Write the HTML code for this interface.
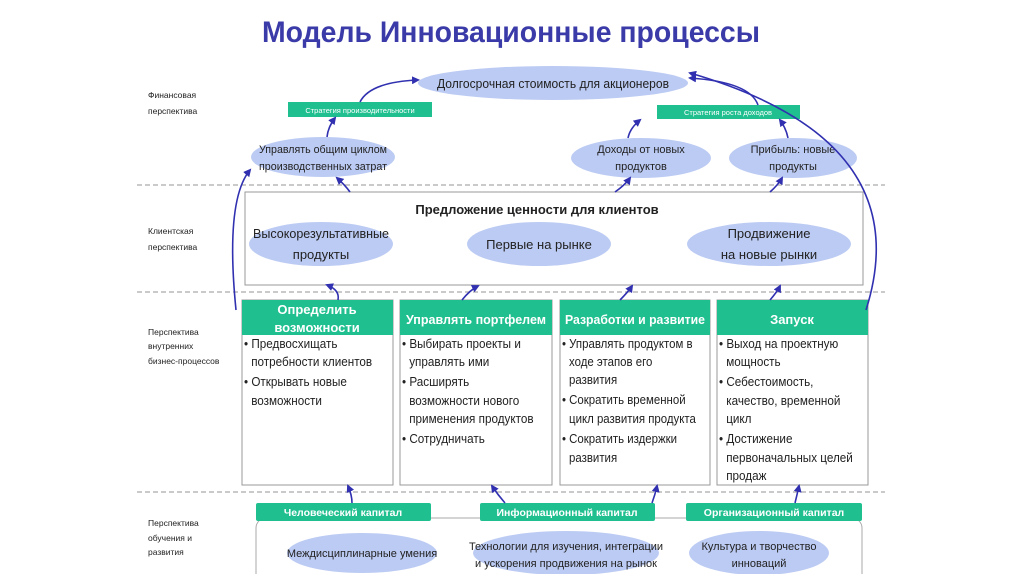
<!DOCTYPE html>
<html><head><meta charset="utf-8"><style>
body{margin:0;background:#fff;width:1024px;height:574px;overflow:hidden}
svg{font-family:"Liberation Sans",sans-serif}
</style></head><body>
<svg width="1024" height="574" viewBox="0 0 1024 574">
<defs><marker id="a" markerWidth="8" markerHeight="8" refX="6" refY="4" orient="auto" markerUnits="userSpaceOnUse"><path d="M0,0 L8,4 L0,8 z" fill="#3030b0"/></marker></defs>
<text x="511" y="42" text-anchor="middle" font-size="30" font-weight="bold" fill="#3a3aa8" textLength="498" lengthAdjust="spacingAndGlyphs">Модель Инновационные процессы</text>
<g stroke="#aaa" stroke-dasharray="5,3" stroke-width="1.3">
<line x1="137" y1="185" x2="885" y2="185"/><line x1="137" y1="292" x2="885" y2="292"/><line x1="137" y1="492" x2="885" y2="492"/></g>
<g font-size="8.5" fill="#222">
<text x="148" y="98">Финансовая</text><text x="148" y="114">перспектива</text>
<text x="148" y="234">Клиентская</text><text x="148" y="250">перспектива</text>
<text x="148" y="335">Перспектива</text><text x="148" y="349">внутренних</text><text x="148" y="364">бизнес-процессов</text>
<text x="148" y="526">Перспектива</text><text x="148" y="541">обучения и</text><text x="148" y="555">развития</text></g>
<g fill="#bccbf3">
<ellipse cx="553" cy="83" rx="135" ry="17"/>
<ellipse cx="323" cy="157" rx="72" ry="20"/><ellipse cx="641" cy="158" rx="70" ry="20"/><ellipse cx="793" cy="158" rx="64" ry="20"/></g>
<g font-size="12.5" fill="#222" text-anchor="middle">
<text x="553" y="88" textLength="232" lengthAdjust="spacingAndGlyphs">Долгосрочная стоимость для акционеров</text></g>
<g font-size="11" fill="#222" text-anchor="middle">
<text x="323" y="153" textLength="128" lengthAdjust="spacingAndGlyphs">Управлять общим циклом</text><text x="323" y="170" textLength="128" lengthAdjust="spacingAndGlyphs">производственных затрат</text>
<text x="641" y="153">Доходы от новых</text><text x="641" y="170">продуктов</text>
<text x="793" y="153">Прибыль: новые</text><text x="793" y="170">продукты</text></g>
<g fill="#1fbf8f"><rect x="288" y="102" width="144" height="15"/><rect x="657" y="105" width="143" height="14"/></g>
<g font-size="7.5" fill="#fff" text-anchor="middle"><text x="360" y="113">Стратегия производительности</text><text x="728" y="115">Стратегия роста доходов</text></g>
<rect x="245" y="192" width="618" height="93" fill="#fff" stroke="#999"/>
<text x="537" y="214" text-anchor="middle" font-size="13" font-weight="bold" fill="#222">Предложение ценности для клиентов</text>
<g fill="#bccbf3"><ellipse cx="321" cy="244" rx="72" ry="22"/><ellipse cx="539" cy="244" rx="72" ry="22"/><ellipse cx="769" cy="244" rx="82" ry="22"/></g>
<g font-size="13" fill="#222" text-anchor="middle">
<text x="321" y="238" textLength="136" lengthAdjust="spacingAndGlyphs">Высокорезультативные</text><text x="321" y="259">продукты</text>
<text x="539" y="249">Первые на рынке</text>
<text x="769" y="238">Продвижение</text><text x="769" y="259">на новые рынки</text></g>
<g stroke="#999" fill="#fff"><rect x="242" y="300" width="151" height="185"/><rect x="400" y="300" width="152" height="185"/><rect x="560" y="300" width="150" height="185"/><rect x="717" y="300" width="151" height="185"/></g>
<g fill="#1fbf8f"><rect x="242" y="300" width="151" height="35"/><rect x="400" y="300" width="152" height="35"/><rect x="560" y="300" width="150" height="35"/><rect x="717" y="300" width="151" height="35"/></g>
<g font-size="13" font-weight="bold" fill="#fff" text-anchor="middle">
<text x="317" y="314">Определить</text><text x="317" y="332">возможности</text>
<text x="476" y="324" textLength="140" lengthAdjust="spacingAndGlyphs">Управлять портфелем</text><text x="635" y="324" textLength="140" lengthAdjust="spacingAndGlyphs">Разработки и развитие</text><text x="792" y="324">Запуск</text></g>
<g font-size="13" fill="#222">
<g transform="translate(244,0) scale(0.9,1)">
<text x="0" y="348">• Предвосхищать</text><text x="8" y="366">потребности клиентов</text>
<text x="0" y="386">• Открывать новые</text><text x="8" y="405">возможности</text></g>
<g transform="translate(402,0) scale(0.9,1)">
<text x="0" y="348">• Выбирать проекты и</text><text x="8" y="366">управлять ими</text>
<text x="0" y="386">• Расширять</text><text x="8" y="405">возможности нового</text><text x="8" y="423">применения продуктов</text>
<text x="0" y="443">• Сотрудничать</text></g>
<g transform="translate(562,0) scale(0.88,1)">
<text x="0" y="348">• Управлять продуктом в</text><text x="8" y="366">ходе этапов его</text><text x="8" y="384">развития</text>
<text x="0" y="404">• Сократить временной</text><text x="8" y="423">цикл развития продукта</text>
<text x="0" y="443">• Сократить издержки</text><text x="8" y="462">развития</text></g>
<g transform="translate(719,0) scale(0.9,1)">
<text x="0" y="348">• Выход на проектную</text><text x="8" y="366">мощность</text>
<text x="0" y="386">• Себестоимость,</text><text x="8" y="405">качество, временной</text><text x="8" y="423">цикл</text>
<text x="0" y="443">• Достижение</text><text x="8" y="462">первоначальных целей</text><text x="8" y="480">продаж</text></g></g>
<rect x="256" y="518" width="606" height="70" rx="10" fill="#fff" stroke="#aaa"/>
<g fill="#1fbf8f"><rect x="256" y="503" width="175" height="18" rx="2"/><rect x="480" y="503" width="175" height="18" rx="2"/><rect x="686" y="503" width="176" height="18" rx="2"/></g>
<g font-size="10.5" font-weight="bold" fill="#fff" text-anchor="middle"><text x="343" y="516">Человеческий капитал</text><text x="567" y="516">Информационный капитал</text><text x="774" y="516">Организационный капитал</text></g>
<g fill="#bccbf3"><ellipse cx="362" cy="553" rx="75" ry="20"/><ellipse cx="566" cy="553" rx="93" ry="22"/><ellipse cx="759" cy="553" rx="70" ry="22"/></g>
<g font-size="11" fill="#222" text-anchor="middle">
<text x="362" y="557">Междисциплинарные умения</text>
<text x="566" y="550">Технологии для изучения, интеграции</text><text x="566" y="567">и ускорения продвижения на рынок</text>
<text x="759" y="550">Культура и творчество</text><text x="759" y="567">инноваций</text></g>
<g stroke="#3030b0" stroke-width="1.6" fill="none" marker-end="url(#a)">
<path d="M360,102 Q370,82 418,80"/>
<path d="M327,137 Q328,127 335,118"/>
<path d="M628,138 Q630,128 640,120"/>
<path d="M788,138 Q786,128 780,120"/>
<path d="M758,105 Q750,82 690,78"/>
<path d="M236,310 Q225,200 250,170"/>
<path d="M866,310 Q920,140 690,73"/>
<path d="M350,192 Q345,185 337,178"/><path d="M615,192 Q625,185 630,178"/><path d="M770,192 Q778,185 782,178"/>
<path d="M338,300 Q340,290 327,285"/><path d="M462,300 Q470,290 478,286"/><path d="M620,300 Q628,292 632,286"/><path d="M770,300 Q777,292 780,286"/>
<path d="M352,503 Q352,495 348,486"/><path d="M505,503 Q498,495 492,486"/><path d="M652,503 Q655,495 657,486"/><path d="M795,503 Q797,495 799,486"/>
</g>
</svg>
</body></html>
